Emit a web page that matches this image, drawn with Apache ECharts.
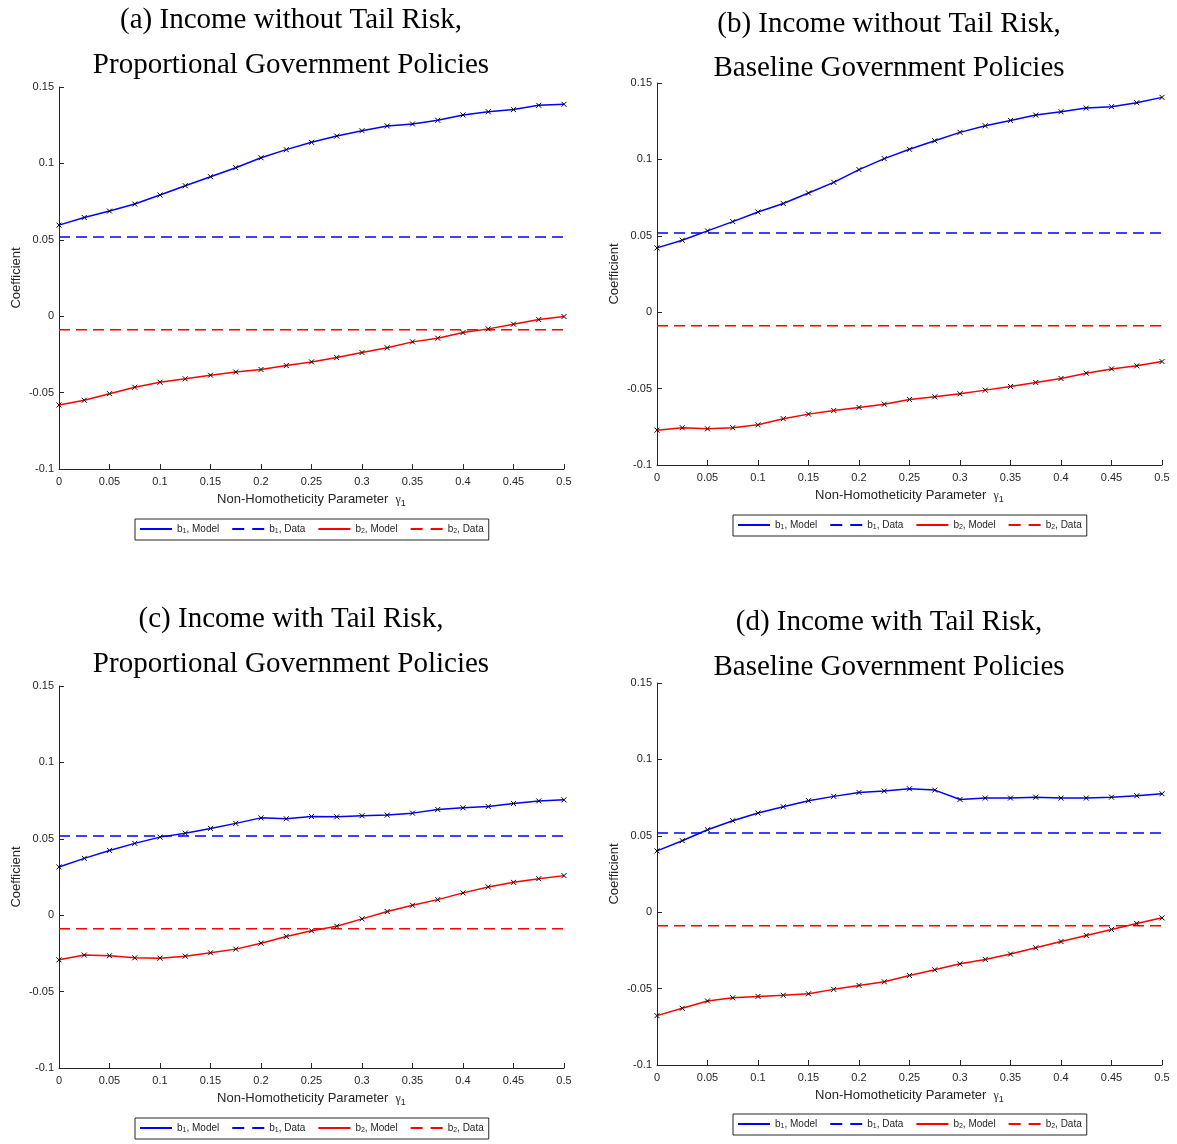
<!DOCTYPE html>
<html><head><meta charset="utf-8">
<script src="https://cdn.jsdelivr.net/npm/echarts@6/dist/echarts.min.js"></script>
<style>html,body{margin:0;padding:0;background:#fff}#c{width:1177px;height:1144px}</style>
</head><body><div id="c"></div><script>
// ---- data ----
const gamma = [0,0.025,0.05,0.075,0.1,0.125,0.15,0.175,0.2,0.225,0.25,0.275,0.3,0.325,0.35,0.375,0.4,0.425,0.45,0.475,0.5];
const xTickLabels = ['0','0.05','0.1','0.15','0.2','0.25','0.3','0.35','0.4','0.45','0.5'];
const yTickLabels = ['-0.1','-0.05','0','0.05','0.1','0.15'];
const b1Data = 0.0518;
const b2Data = -0.0088;
const a_b1Model = [0.0596,0.0646,0.0688,0.0734,0.0793,0.0854,0.0913,0.0972,0.1037,0.1090,0.1138,0.1179,0.1214,0.1245,0.1258,0.1282,0.1317,0.1338,0.1352,0.1380,0.1387];
const a_b2Model = [-0.0581,-0.0550,-0.0507,-0.0465,-0.0432,-0.0410,-0.0386,-0.0365,-0.0349,-0.0323,-0.0299,-0.0271,-0.0238,-0.0207,-0.0168,-0.0144,-0.0107,-0.0083,-0.0052,-0.0022,-0.0002];
const b_b1Model = [0.0421,0.0471,0.0532,0.0593,0.0656,0.0711,0.0780,0.0850,0.0933,0.1005,0.1066,0.1122,0.1177,0.1220,0.1255,0.1290,0.1312,0.1336,0.1345,0.1371,0.1406];
const b_b2Model = [-0.0772,-0.0756,-0.0763,-0.0756,-0.0737,-0.0697,-0.0667,-0.0643,-0.0623,-0.0602,-0.0571,-0.0554,-0.0534,-0.0510,-0.0486,-0.0460,-0.0434,-0.0399,-0.0371,-0.0351,-0.0323];
const c_b1Model = [0.0316,0.0372,0.0424,0.0470,0.0511,0.0537,0.0568,0.0601,0.0637,0.0631,0.0646,0.0644,0.0651,0.0655,0.0668,0.0692,0.0703,0.0711,0.0731,0.0748,0.0755];
const c_b2Model = [-0.0292,-0.0261,-0.0265,-0.0279,-0.0281,-0.0268,-0.0246,-0.0222,-0.0183,-0.0139,-0.0102,-0.0072,-0.0024,0.0024,0.0065,0.0102,0.0146,0.0185,0.0215,0.0239,0.0259];
const d_b1Model = [0.0401,0.0468,0.0540,0.0599,0.0649,0.0690,0.0730,0.0758,0.0784,0.0793,0.0808,0.0799,0.0738,0.0747,0.0747,0.0753,0.0747,0.0747,0.0753,0.0762,0.0775];
const d_b2Model = [-0.0677,-0.0629,-0.0581,-0.0560,-0.0551,-0.0544,-0.0534,-0.0505,-0.0479,-0.0455,-0.0414,-0.0377,-0.0338,-0.0309,-0.0274,-0.0233,-0.0192,-0.0152,-0.0113,-0.0074,-0.0037];
const titles = [
  ['(a) Income without Tail Risk,','Proportional Government Policies'],
  ['(b) Income without Tail Risk,','Baseline Government Policies'],
  ['(c) Income with Tail Risk,','Proportional Government Policies'],
  ['(d) Income with Tail Risk,','Baseline Government Policies']
];
const seriesNames = ['b1, Model','b1, Data','b2, Model','b2, Data'];
const xName = 'Non-Homotheticity Parameter';
const yName = 'Coefficient';

// ---- layout ----
const layout = [
  {left:59, top:87, t1:18, t2:63, cx:291, lgLeft:135, lgTop:519, b1:a_b1Model, b2:a_b2Model},
  {left:657, top:83, t1:22, t2:66, cx:889, lgLeft:733, lgTop:515, b1:b_b1Model, b2:b_b2Model},
  {left:59, top:686, t1:617, t2:662, cx:291, lgLeft:135, lgTop:1118, b1:c_b1Model, b2:c_b2Model},
  {left:657, top:683, t1:620, t2:665, cx:889, lgLeft:733, lgTop:1114, b1:d_b1Model, b2:d_b2Model}
];
const W = 505, H = 382;
const SANS = 'Liberation Sans, Arial, Helvetica, sans-serif';
const SERIF = 'Liberation Serif, Times New Roman, serif';
const AX = '#262626';
const BLUE = '#0000ff', RED = '#ff0000';
const xMark = 'path://M0,0L10,10M10,0L0,10';
const dashIcon = 'path://M0,0h12v2h-12zM20,0h12v2h-12z';

const option = {animation:false, backgroundColor:'#fff', title:[], grid:[], xAxis:[], yAxis:[], legend:[], series:[]};

layout.forEach((p, i) => {
  option.title.push({text: titles[i][0], left: p.cx, top: p.t1 - 14, textAlign:'center', padding:0,
    textStyle:{fontFamily:SERIF, fontWeight:'normal', fontSize:29, color:'#000', lineHeight:32}});
  option.title.push({text: titles[i][1], left: p.cx, top: p.t2 - 14, textAlign:'center', padding:0,
    textStyle:{fontFamily:SERIF, fontWeight:'normal', fontSize:29, color:'#000', lineHeight:32}});
  option.grid.push({left:p.left, top:p.top, width:W, height:H, containLabel:false});
  option.xAxis.push({gridIndex:i, type:'value', min:0, max:0.5, interval:0.05,
    axisLine:{onZero:false, lineStyle:{color:AX, width:1}},
    axisTick:{inside:true, length:5, lineStyle:{color:AX}},
    splitLine:{show:false},
    axisLabel:{color:AX, fontSize:11, fontFamily:SANS, margin:7,
      formatter: v => xTickLabels[Math.round(v/0.05)]},
    name:'{n|' + xName + '}  {g|γ}{s|1}', nameLocation:'middle', nameGap:22,
    nameTextStyle:{color:AX, fontFamily:SANS, fontSize:13,
      rich:{n:{fontSize:13, fontFamily:SANS, color:AX}, g:{fontSize:12, fontFamily:SERIF, color:AX},
            s:{fontSize:9, fontFamily:SANS, color:AX, padding:[8,0,0,0]}}}
  });
  option.yAxis.push({gridIndex:i, type:'value', min:-0.1, max:0.15, interval:0.05,
    axisLine:{show:true, onZero:false, lineStyle:{color:AX, width:1}},
    axisTick:{show:true, inside:true, length:5, lineStyle:{color:AX}},
    splitLine:{show:false},
    axisLabel:{color:AX, fontSize:11, fontFamily:SANS, margin:5,
      formatter: v => yTickLabels[Math.round((v + 0.1)/0.05)]},
    name: yName, nameLocation:'middle', nameGap:36, nameRotate:90,
    nameTextStyle:{color:AX, fontFamily:SANS, fontSize:13}
  });
  option.legend.push({left:p.lgLeft, top:p.lgTop, orient:'horizontal',
    padding:[5,5,5,5], borderColor:AX, borderWidth:1, itemGap:13, itemWidth:32, itemHeight:2,
    selectedMode:false, itemStyle:{borderWidth:0},
    data:[{name:seriesNames[0], icon:'rect'},{name:seriesNames[1], icon:dashIcon},
          {name:seriesNames[2], icon:'rect'},{name:seriesNames[3], icon:dashIcon}],
    formatter: n => n.replace(/b(\d)/, 'b{s|$1}'),
    textStyle:{color:AX, fontSize:10, fontFamily:SANS,
      rich:{s:{fontSize:7, fontFamily:SANS, color:AX, padding:[5,0,0,0]}}}
  });
  const modelSeries = (name, vals, color) => ({type:'line', name, xAxisIndex:i, yAxisIndex:i,
    data: gamma.map((g,k) => [g, vals[k]]),
    lineStyle:{color, width:1.5}, itemStyle:{color, borderColor:'#000', borderWidth:1},
    symbol:xMark, symbolSize:5, showSymbol:true, showAllSymbol:true, z:4, emphasis:{disabled:true}});
  const dataSeries = (name, v, color) => ({type:'line', name, xAxisIndex:i, yAxisIndex:i,
    data: [[gamma[0], v],[gamma[gamma.length-1], v]],
    lineStyle:{color, width:1.5, type:[11,6]}, itemStyle:{color}, symbol:'none', z:3, emphasis:{disabled:true}});
  option.series.push(modelSeries(seriesNames[0], p.b1, BLUE));
  option.series.push(dataSeries(seriesNames[1], b1Data, BLUE));
  option.series.push(modelSeries(seriesNames[2], p.b2, RED));
  option.series.push(dataSeries(seriesNames[3], b2Data, RED));
});

const chart = echarts.init(document.getElementById('c'), null, {renderer:'canvas'});
chart.setOption(option);
</script></body></html>
